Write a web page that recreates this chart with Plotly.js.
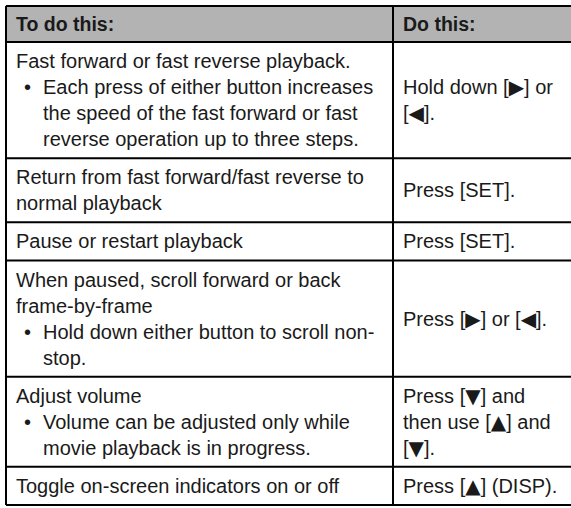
<!DOCTYPE html>
<html>
<head>
<meta charset="utf-8">
<script src="https://cdn.plot.ly/plotly-3.0.1.min.js"></script>
<style>html,body{margin:0;padding:0;background:#fff;}#chart{width:571px;height:508px;}</style>
</head>
<body>
<div id="chart"></div>
<script>
// ---- table content ----
const headers = ["To do this:", "Do this:"];
const actionLines = [
  ["Fast forward or fast reverse playback."],
  ["Return from fast forward/fast reverse to", "normal playback"],
  ["Pause or restart playback"],
  ["When paused, scroll forward or back", "frame-by-frame"],
  ["Adjust volume"],
  ["Toggle on-screen indicators on or off"]
];
const noteLines = [
  ["Each press of either button increases", "the speed of the fast forward or fast", "reverse operation up to three steps."],
  [],
  [],
  ["Hold down either button to scroll non-", "stop."],
  ["Volume can be adjusted only while", "movie playback is in progress."],
  []
];
const responseLines = [
  ["Hold down [\u25B6] or", "[\u25C0]."],
  ["Press [SET]."],
  ["Press [SET]."],
  ["Press [\u25B6] or [\u25C0]."],
  ["Press [\u25BC] and", "then use [\u25B2] and", "[\u25BC]."],
  ["Press [\u25B2] (DISP)."]
];

// ---- layout constants ----
const W = 571, H = 508;
const tblLeft = 6, tblTop = 6, headerBottom = 42, divider = 393, tblRight = 575, tblBottom = 505;
const pitch = 26, fontSize = 20, headerFontSize = 19.5;
const textX = tblLeft + 8, bulletX = textX + 8, bulletTextX = textX + 27;
const FONT = "Liberation Sans, Arial, Helvetica, sans-serif";
const textColor = "#1a1a1a";

const lineCounts = actionLines.map((a, i) => a.length + noteLines[i].length);
const totalLines = lineCounts.reduce((s, v) => s + v, 0);
const rowPad = (tblBottom - headerBottom - totalLines * pitch) / lineCounts.length;

function glyphs(t) {
  return t.replace(/([\u25B2\u25B6\u25BC\u25C0])/g,
    '<span style="font-family:DejaVu Sans">$1</span>');
}
const annotations = [];
const shapes = [];
function txt(x, y, t, bold) {
  const s = glyphs(t);
  annotations.push({
    x: x, y: y, xref: "x", yref: "y", text: bold ? "<b>" + s + "</b>" : s,
    showarrow: false, xanchor: "left", yanchor: "middle",
    font: {family: FONT, size: bold ? headerFontSize : fontSize, color: textColor}
  });
}
function hvline(x0, y0, x1, y1) {
  shapes.push({type: "line", xref: "x", yref: "y", x0: x0, y0: y0, x1: x1, y1: y1,
    line: {color: "#000", width: 2}});
}

// header
shapes.push({type: "rect", xref: "x", yref: "y", x0: tblLeft, y0: tblTop, x1: tblRight, y1: headerBottom,
  fillcolor: "#b3b3b3", line: {width: 0}, layer: "below"});
txt(textX, (tblTop + headerBottom) / 2, headers[0], true);
txt(divider + 8, (tblTop + headerBottom) / 2, headers[1], true);
hvline(tblLeft, tblTop, tblRight, tblTop);
hvline(tblLeft, headerBottom, tblRight, headerBottom);

// rows
let yPos = headerBottom;
lineCounts.forEach((n, i) => {
  const h = n * pitch + rowPad;
  let ly = yPos + rowPad / 2 + pitch / 2;
  actionLines[i].forEach(t => { txt(textX, ly, t, false); ly += pitch; });
  noteLines[i].forEach((t, k) => {
    if (k === 0) {
      annotations.push({x: bulletX, y: ly, xref: "x", yref: "y", text: "\u2022", showarrow: false,
        xanchor: "left", yanchor: "middle", font: {family: FONT, size: fontSize, color: textColor}});
    }
    txt(bulletTextX, ly, t, false); ly += pitch;
  });
  const r = responseLines[i];
  let ry = yPos + h / 2 - (r.length - 1) * pitch / 2;
  r.forEach(t => { txt(divider + 8, ry, t, false); ry += pitch; });
  yPos += h;
  hvline(tblLeft, yPos, tblRight, yPos);
});
hvline(tblLeft, tblTop, tblLeft, yPos);
hvline(divider, tblTop, divider, yPos);

const layout = {
  width: W, height: H, margin: {l: 0, r: 0, t: 0, b: 0},
  paper_bgcolor: "#fff", plot_bgcolor: "#fff", showlegend: false,
  xaxis: {range: [0, W], visible: false, fixedrange: true},
  yaxis: {range: [H, 0], visible: false, fixedrange: true},
  shapes: shapes, annotations: annotations
};
Plotly.newPlot("chart", [{x: [], y: [], type: "scatter", mode: "markers", hoverinfo: "skip"}], layout,
  {staticPlot: true, displayModeBar: false});
</script>
</body>
</html>
